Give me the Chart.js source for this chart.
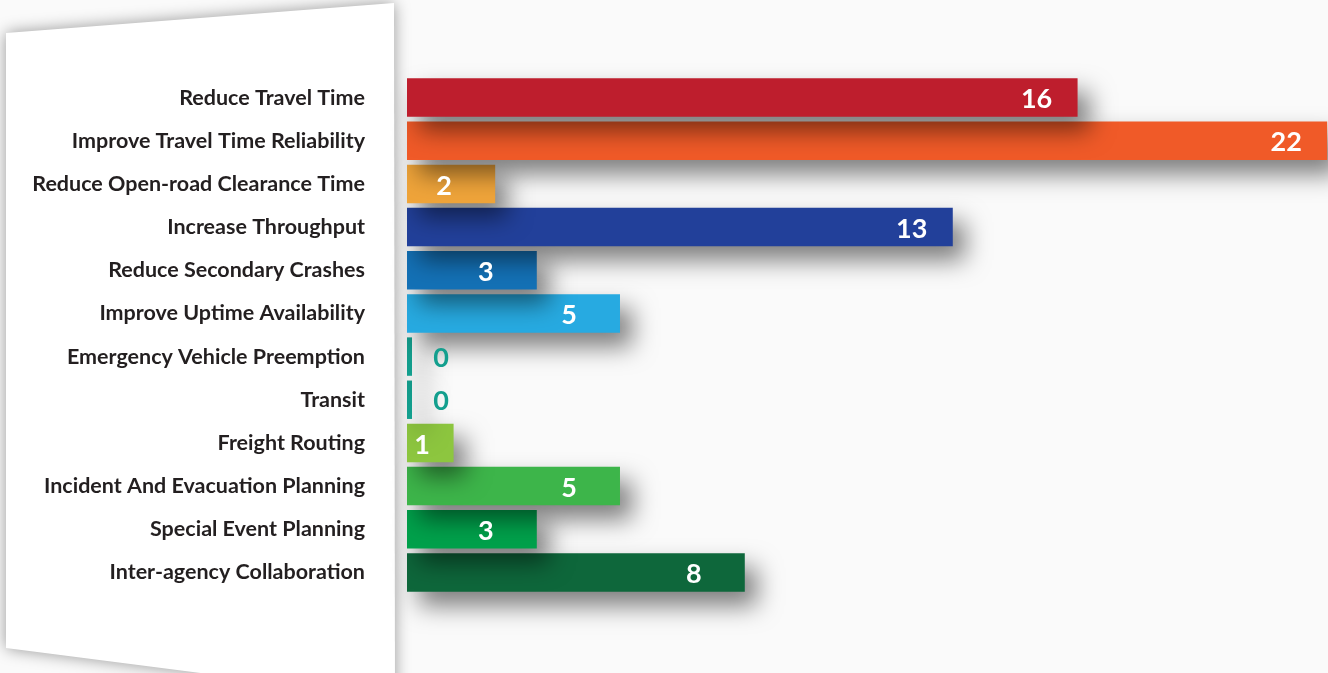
<!DOCTYPE html>
<html lang="en">
  <head>
    <meta charset="UTF-8" />
    <title>Operational Objectives</title>
    <script src="https://cdn.jsdelivr.net/npm/chart.js"></script>
    <style>
      body {
        margin: 0;
        padding: 0;
        background-color: #fafafa;
        overflow: hidden;
      }

      .chart-container {
        position: relative;
        width: 1328px;
        height: 673px;
      }

      canvas {
        display: block;
      }
    </style>
  </head>
  <body>
    <div class="chart-container">
      <canvas id="objectives-chart" width="1328" height="673"></canvas>
    </div>

    <script>
      const categories = [
        "Reduce Travel Time",
        "Improve Travel Time Reliability",
        "Reduce Open-road Clearance Time",
        "Increase Throughput",
        "Reduce Secondary Crashes",
        "Improve Uptime Availability",
        "Emergency Vehicle Preemption",
        "Transit",
        "Freight Routing",
        "Incident And Evacuation Planning",
        "Special Event Planning",
        "Inter-agency Collaboration",
      ];
      const counts = [16, 22, 2, 13, 3, 5, 0, 0, 1, 5, 3, 8];
      const barColors = [
        "#be1e2d",
        "#f05a28",
        "#efa43a",
        "#22409a",
        "#1471b6",
        "#27aae1",
        "#139f8e",
        "#139f8e",
        "#8dc63f",
        "#3db54a",
        "#00a14b",
        "#0e673b",
      ];

      const FONT = "Lato, 'Open Sans', sans-serif";
      const BASE = -0.12;

      // bars are drawn bottom to top, so the upper bar's shadow lands on the one below
      const labelsRev = categories.slice().reverse();
      const countsRev = counts.slice().reverse();
      const colorsRev = barColors.slice().reverse();

      const panelPlugin = {
        id: "panel",
        beforeDraw(chart) {
          const ctx = chart.ctx;
          ctx.save();
          ctx.fillStyle = "#fafafa";
          ctx.fillRect(0, 0, chart.width, chart.height);
          ctx.shadowColor = "rgba(0,0,0,0.4)";
          ctx.shadowBlur = 16;
          ctx.fillStyle = "#ffffff";
          ctx.beginPath();
          ctx.moveTo(6, 33);
          ctx.lineTo(394, 3);
          ctx.lineTo(395, 698);
          ctx.lineTo(6, 648);
          ctx.closePath();
          ctx.fill();
          ctx.restore();
        },
      };

      const shadowPlugin = {
        id: "barShadow",
        beforeDatasetsDraw(chart) {
          const ctx = chart.ctx;
          ctx.save();
          ctx.shadowColor = "rgba(0,0,0,0.5)";
          ctx.shadowBlur = 24;
          ctx.shadowOffsetX = 12;
          ctx.shadowOffsetY = 14;
        },
        afterDatasetsDraw(chart) {
          chart.ctx.restore();
        },
      };

      const valuePlugin = {
        id: "values",
        afterDraw(chart) {
          const ctx = chart.ctx;
          const x = chart.scales.x;
          const meta = chart.getDatasetMeta(0);
          ctx.save();
          ctx.font = "bold 27px " + FONT;
          ctx.textAlign = "center";
          ctx.textBaseline = "middle";
          meta.data.forEach((bar, i) => {
            const v = countsRev[i];
            const start = x.getPixelForValue(BASE);
            const end = x.getPixelForValue(v);
            let cx;
            if (v === 0) {
              ctx.fillStyle = colorsRev[i];
              cx = start + 34;
            } else {
              ctx.fillStyle = "#ffffff";
              cx = String(v).length > 1 ? end - 41 : Math.max(end - 51, start + 15);
            }
            ctx.fillText(String(v), cx, bar.y + 2);
          });
          ctx.restore();
        },
      };

      new Chart(document.getElementById("objectives-chart"), {
        type: "bar",
        data: {
          labels: labelsRev,
          datasets: [
            {
              data: countsRev,
              base: BASE,
              backgroundColor: colorsRev,
              borderWidth: 0,
              barPercentage: 0.89,
              categoryPercentage: 1,
              clip: false,
            },
          ],
        },
        options: {
          indexAxis: "y",
          responsive: false,
          animation: false,
          layout: { padding: { left: 0, right: 0, top: 76, bottom: 79 } },
          plugins: {
            legend: { display: false },
            tooltip: { enabled: false },
          },
          scales: {
            x: {
              display: false,
              min: BASE,
              max: 22.02,
            },
            y: {
              reverse: true,
              grid: { display: false, drawTicks: false },
              border: { display: false },
              afterFit(scale) {
                scale.width = 407;
              },
              ticks: {
                padding: 42,
                color: "#231f20",
                font: { family: FONT, size: 21.5, weight: "bold" },
              },
            },
          },
        },
        plugins: [panelPlugin, shadowPlugin, valuePlugin],
      });
    </script>
  </body>
</html>
